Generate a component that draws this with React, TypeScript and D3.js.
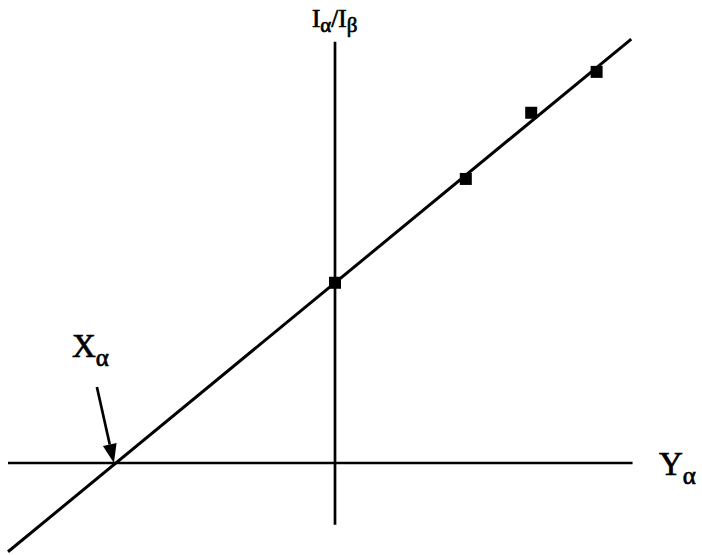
import React from 'react';
import * as d3 from 'd3';

// measured points (x position, intensity ratio I_alpha / I_beta)
const xValues = [0, 2, 3, 4];
const ratioValues = [3.35, 5.28, 6.51, 7.27];

// fitted straight line
const fitSlope = 1;
const fitIntercept = 3.35;
const fitExtent = [-5, 4.53];

// axis extents in data units
const hAxisExtent = [-5, 4.55];
const vAxisExtent = [-1.15, 7.83];

const W = 702;
const H = 555;

const App = () => {
  const x = d3.scaleLinear().domain([-5, 0]).range([8, 335]);
  const y = d3.scaleLinear().domain([0, 1]).range([463, 463 - 53.8]);

  const fitLine = d3
    .line<number>()
    .x((d) => x(d))
    .y((d) => y(fitSlope * d + fitIntercept));

  const xIntercept = -fitIntercept / fitSlope;
  const tipX = x(xIntercept) - 2;
  const tipY = y(0);
  const startX = tipX - 17;
  const startY = tipY - 76;
  const ang = Math.atan2(tipY - startY, tipX - startX);
  const headLen = 19;
  const headHalf = 7;
  const bx = tipX - headLen * Math.cos(ang);
  const by = tipY - headLen * Math.sin(ang);
  const px = -Math.sin(ang) * headHalf;
  const py = Math.cos(ang) * headHalf;

  const font = "'Liberation Serif', 'Times New Roman', serif";
  const sq = 12;
  const textStyle = { stroke: '#000', strokeWidth: 0.7 };

  return (
    <svg
      width={W}
      height={H}
      style={{ position: 'absolute', left: 0, top: 0, background: '#fff' }}
    >
      {/* axes */}
      <line
        x1={x(hAxisExtent[0])}
        x2={x(hAxisExtent[1])}
        y1={y(0)}
        y2={y(0)}
        stroke="#000"
        strokeWidth={2.7}
      />
      <line
        x1={x(0)}
        x2={x(0)}
        y1={y(vAxisExtent[0])}
        y2={y(vAxisExtent[1])}
        stroke="#000"
        strokeWidth={2.7}
      />

      {/* fit line */}
      <path d={fitLine(fitExtent) || ''} fill="none" stroke="#000" strokeWidth={3} />

      {/* data points */}
      {xValues.map((d, i) => (
        <rect
          key={i}
          x={x(d) - sq / 2}
          y={y(ratioValues[i]) - sq / 2}
          width={sq}
          height={sq}
          fill="#000"
        />
      ))}

      {/* arrow to X intercept */}
      <line x1={startX} y1={startY} x2={bx} y2={by} stroke="#000" strokeWidth={2.7} />
      <path
        d={`M${tipX},${tipY}L${bx + px},${by + py}L${bx - px},${by - py}Z`}
        fill="#000"
      />

      {/* labels */}
      <text x={72} y={357} fontFamily={font} fontSize={33} fill="#000" style={textStyle}>
        X
        <tspan fontSize={25} dy={9}>α</tspan>
      </text>
      <text x={659} y={475} fontFamily={font} fontSize={33} fill="#000" style={textStyle}>
        Y
        <tspan fontSize={25} dy={9}>α</tspan>
      </text>
      <text x={312} y={27} fontFamily={font} fontSize={25} fill="#000" style={textStyle}>
        I
        <tspan fontSize={21} dy={5}>α</tspan>
        <tspan dy={-5}>/I</tspan>
        <tspan fontSize={21} dy={5}>β</tspan>
      </text>
    </svg>
  );
};

export default App;
